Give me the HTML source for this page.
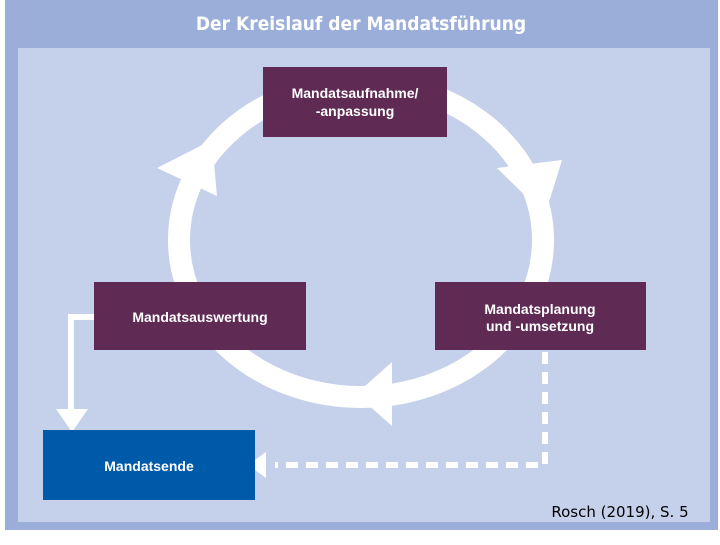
<!DOCTYPE html>
<html><head><meta charset="utf-8"><style>
body{margin:0;width:720px;height:540px;background:#fff;overflow:hidden;font-family:"Liberation Sans","DejaVu Sans",sans-serif}
</style></head><body>
<svg width="720" height="540" xmlns="http://www.w3.org/2000/svg">
<rect x="5" y="0" width="713" height="530" fill="#9aaed9"/>
<rect x="18" y="48" width="692" height="474" fill="#c5d0ea"/>
<text x="361" y="30" font-size="19" fill="#fff" text-anchor="middle" font-weight="bold" font-family="DejaVu Sans Condensed, sans-serif">Der Kreislauf der Mandatsführung</text>
<ellipse cx="361" cy="240" rx="182" ry="157" fill="none" stroke="#fff" stroke-width="22"/>
<polygon points="157,168 217,196 212,140" fill="#fff"/>
<polygon points="497,168 562,160 545,215" fill="#fff"/>
<polygon points="392,362 392,426 356,394" fill="#fff"/>
<rect x="263" y="67" width="184" height="70" fill="#5f2b55"/>
<text x="355" y="98" font-size="14" font-weight="bold" fill="#fff" text-anchor="middle">Mandatsaufnahme/</text>
<text x="355" y="116" font-size="14" font-weight="bold" fill="#fff" text-anchor="middle">-anpassung</text>
<rect x="94" y="282" width="212" height="68" fill="#5f2b55"/>
<text x="200" y="322" font-size="14" font-weight="bold" fill="#fff" text-anchor="middle">Mandatsauswertung</text>
<rect x="435" y="282" width="211" height="68" fill="#5f2b55"/>
<text x="540" y="314" font-size="14" font-weight="bold" fill="#fff" text-anchor="middle">Mandatsplanung</text>
<text x="540" y="331" font-size="14" font-weight="bold" fill="#fff" text-anchor="middle">und -umsetzung</text>
<polyline points="94,317 71,317 71,412" fill="none" stroke="#fff" stroke-width="6"/>
<polygon points="56,409 88,409 72,432" fill="#fff"/>
<polyline points="545,352 545,465 275,465" fill="none" stroke="#fff" stroke-width="6" stroke-dasharray="12,8"/>
<polygon points="266,452 266,478 248,465" fill="#fff"/>
<rect x="43" y="430" width="212" height="70" fill="#005aaa"/>
<text x="149" y="471" font-size="14" font-weight="bold" fill="#fff" text-anchor="middle">Mandatsende</text>
<text x="620" y="517" font-size="15" fill="#000" text-anchor="middle" font-family="DejaVu Sans, sans-serif">Rosch (2019), S. 5</text>
</svg>
</body></html>
